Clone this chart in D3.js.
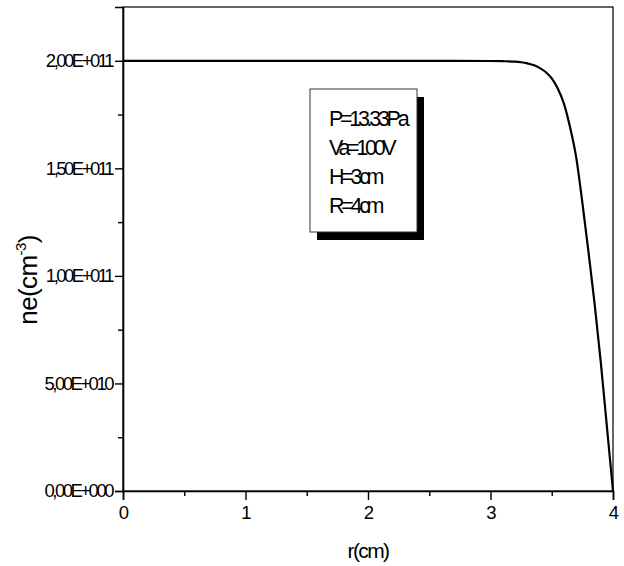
<!DOCTYPE html>
<html>
<head>
<meta charset="utf-8">
<script src="https://cdn.jsdelivr.net/npm/d3@7/dist/d3.min.js"></script>
<style>
  html, body { margin: 0; padding: 0; background: #fff; }
  svg { display: block; }
  text { font-family: "Liberation Sans", Arial, sans-serif; fill: #000; }
</style>
</head>
<body>
<svg id="chart" width="624" height="566"></svg>
<script>
// Radial electron density profile
const rValues = [0, 0.5, 1, 1.5, 2, 2.5, 3, 3.1, 3.2, 3.25, 3.3, 3.35, 3.4, 3.45, 3.5, 3.55, 3.6, 3.65, 3.7, 3.75, 3.8, 3.85, 3.9, 3.95, 4.0];
const neValues = [2.0e11, 2.0e11, 2.0e11, 2.0e11, 2.0e11, 2.0e11, 1.999e11, 1.998e11, 1.996e11, 1.993e11, 1.988e11, 1.98e11, 1.967e11, 1.948e11, 1.918e11, 1.87e11, 1.80e11, 1.69e11, 1.55e11, 1.34e11, 1.11e11, 0.87e11, 0.60e11, 0.30e11, 0];

const xTicks = [0, 1, 2, 3, 4];
const xTickLabels = ["0", "1", "2", "3", "4"];
const xMinorTicks = [0.5, 1.5, 2.5, 3.5];
const yTicks = [0, 5e10, 1e11, 1.5e11, 2e11];
const yTickLabels = ["0,00E+000", "5,00E+010", "1,00E+011", "1,50E+011", "2,00E+011"];
const yMinorTicks = [2.5e10, 7.5e10, 1.25e11, 1.75e11];
const legendLines = ["P=13.33Pa", "Va=100V", "H=3cm", "R=4cm"];

const svg = d3.select("#chart");
const plotLeft = 123, plotRight = 613, plotTop = 7, plotBottom = 491;

const x = d3.scaleLinear().domain([0, 4]).range([plotLeft, plotRight]);
const y = d3.scaleLinear().domain([0, 2.25e11]).range([plotBottom, plotTop]);

svg.append("rect").attr("width", 624).attr("height", 566).attr("fill", "#fff");

// frame
svg.append("rect")
  .attr("x", plotLeft).attr("y", plotTop)
  .attr("width", plotRight - plotLeft).attr("height", plotBottom - plotTop)
  .attr("fill", "none").attr("stroke", "#000").attr("stroke-width", 1.2);

// x axis
const gx = svg.append("g").attr("transform", `translate(0,${plotBottom})`);
gx.call(d3.axisBottom(x).tickValues(xTicks).tickSize(9).tickPadding(6)
  .tickFormat((d, i) => xTickLabels[i]));
gx.append("g").call(d3.axisBottom(x).tickValues(xMinorTicks).tickSize(5).tickFormat(""))
  .select(".domain").remove();
gx.selectAll("path.domain").attr("stroke-width", 1.6);
gx.selectAll("line").attr("stroke-width", 1.4);
gx.selectAll("text").attr("font-size", 18.5).style("letter-spacing", "-1px")
  .attr("font-family", "'Liberation Sans', Arial, sans-serif");

// y axis
const gy = svg.append("g").attr("transform", `translate(${plotLeft},0)`);
gy.call(d3.axisLeft(y).tickValues(yTicks).tickSize(8).tickPadding(5)
  .tickFormat((d, i) => yTickLabels[i]));
gy.append("g").call(d3.axisLeft(y).tickValues(yMinorTicks).tickSize(5).tickFormat(""))
  .select(".domain").remove();
gy.selectAll("path.domain").attr("stroke-width", 1.6);
gy.selectAll("line").attr("stroke-width", 1.4);
gy.selectAll("text").attr("font-size", 18.5).style("letter-spacing", "-2.5px")
  .attr("dx", 2).attr("font-family", "'Liberation Sans', Arial, sans-serif");

// curve
const line = d3.line()
  .x((d, i) => x(rValues[i]))
  .y(d => y(d))
  .curve(d3.curveMonotoneX);
svg.append("path")
  .datum(neValues)
  .attr("d", line)
  .attr("fill", "none")
  .attr("stroke", "#000")
  .attr("stroke-width", 2.2);

// axis titles
svg.append("text")
  .attr("x", (plotLeft + plotRight) / 2).attr("y", 558)
  .attr("text-anchor", "middle")
  .attr("font-size", 21)
  .style("letter-spacing", "-1.6px")
  .text("r(cm)");

const yt = svg.append("text")
  .attr("transform", "translate(37,280) rotate(-90)")
  .attr("text-anchor", "middle")
  .attr("font-size", 26)
  .style("letter-spacing", "-0.6px");
yt.append("tspan").text("ne(cm");
yt.append("tspan").attr("font-size", 15).attr("dy", -11).text("-3");
yt.append("tspan").attr("dy", 11).text(")");

// legend box with drop shadow
const lg = svg.append("g");
const bx = 310, by = 89, bw = 107, bh = 143;
lg.append("rect").attr("x", bx + 7).attr("y", by + 8).attr("width", bw).attr("height", bh).attr("fill", "#000");
lg.append("rect").attr("x", bx).attr("y", by).attr("width", bw).attr("height", bh)
  .attr("fill", "#fff").attr("stroke", "#333").attr("stroke-width", 1);
lg.selectAll("text.leg").data(legendLines).join("text")
  .attr("class", "leg")
  .attr("x", bx + 19)
  .attr("y", (d, i) => by + 37 + i * 29)
  .attr("font-size", 21.5)
  .style("letter-spacing", "-3.3px")
  .text(d => d);
</script>
</body>
</html>
